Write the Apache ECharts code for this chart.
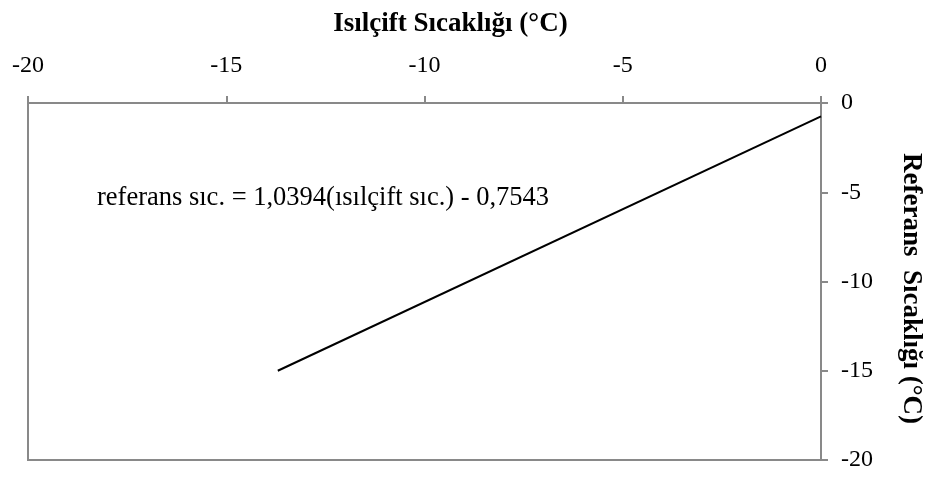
<!DOCTYPE html>
<html>
<head>
<meta charset="utf-8">
<script src="https://cdn.jsdelivr.net/npm/echarts@6/dist/echarts.min.js"></script>
<style>
  html, body { margin: 0; padding: 0; background: #fff; }
  #chart { width: 932px; height: 480px; }
</style>
</head>
<body>
<div id="chart"></div>
<script>
// Thermocouple reading vs. reference reading (°C)
const thermocoupleTemp = [-13.7, 0];
const referenceTemp = [-15.0, -0.75];
const xTicks = [-20, -15, -10, -5, 0];
const yTicks = [-20, -15, -10, -5, 0];
const equationText = 'referans sıc. = 1,0394(ısılçift sıc.) - 0,7543';

const serif = '"Liberation Serif", "Times New Roman", serif';
const axisGrey = '#898989';

const chart = echarts.init(document.getElementById('chart'));
chart.setOption({
  animation: false,
  backgroundColor: '#fff',
  grid: {
    left: 28, right: 109, top: 103, bottom: 20,
    show: true, borderColor: axisGrey, borderWidth: 2, backgroundColor: 'transparent'
  },
  xAxis: {
    type: 'value',
    position: 'top',
    min: xTicks[0], max: xTicks[xTicks.length - 1], interval: 5,
    name: 'Isılçift Sıcaklığı (°C)',
    nameLocation: 'middle',
    nameGap: 65,
    nameTextStyle: {
      fontFamily: serif, fontWeight: 'bold', fontSize: 27, color: '#000',
      padding: [0, 0, 0, 52]
    },
    axisLine: { show: true, lineStyle: { color: axisGrey, width: 2 } },
    axisTick: { show: true, inside: false, length: 7, lineStyle: { color: axisGrey, width: 2 } },
    axisLabel: { margin: 25, fontFamily: serif, fontSize: 24, color: '#000' },
    splitLine: { show: false }
  },
  yAxis: {
    type: 'value',
    position: 'right',
    min: yTicks[0], max: yTicks[yTicks.length - 1], interval: 5,
    name: 'Referans  Sıcaklığı (°C)',
    nameLocation: 'middle',
    nameRotate: -90,
    nameGap: 76,
    nameTextStyle: {
      fontFamily: serif, fontWeight: 'bold', fontSize: 27, color: '#000',
      padding: [0, 0, 0, 14]
    },
    axisLine: { show: true, lineStyle: { color: axisGrey, width: 2 } },
    axisTick: { show: true, inside: false, length: 7, lineStyle: { color: axisGrey, width: 2 } },
    axisLabel: { margin: 20, fontFamily: serif, fontSize: 24, color: '#000' },
    splitLine: { show: false }
  },
  graphic: [{
    type: 'text',
    left: 97,
    top: 185,
    style: { text: equationText, font: '26.5px ' + serif, fill: '#000' }
  }],
  series: [{
    type: 'line',
    data: thermocoupleTemp.map((x, i) => [x, referenceTemp[i]]),
    showSymbol: false,
    lineStyle: { color: '#000', width: 2 }
  }]
});
</script>
</body>
</html>
